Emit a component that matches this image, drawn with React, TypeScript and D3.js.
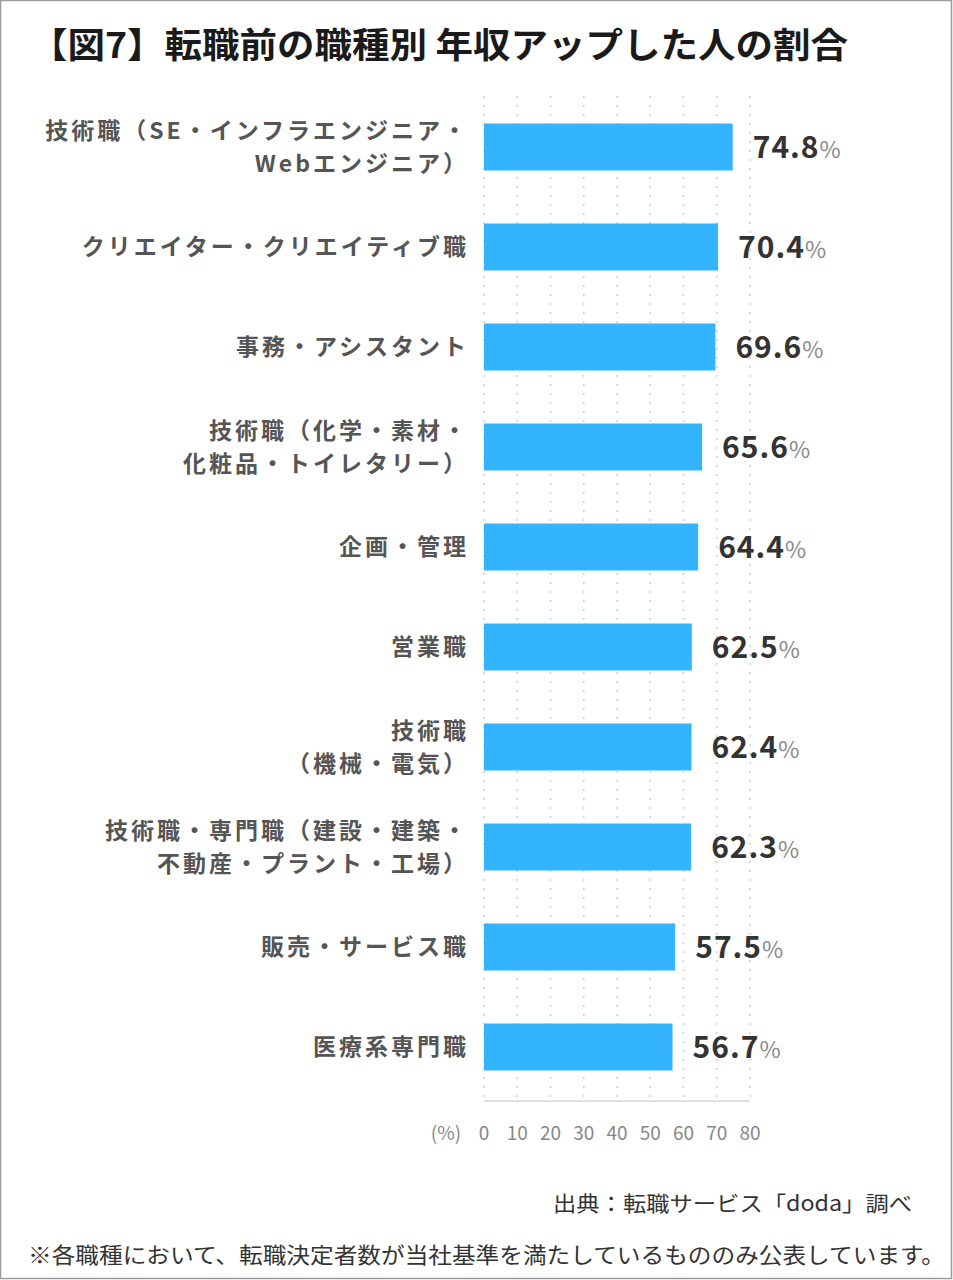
import * as d3 from 'd3';

const title = '【図7】転職前の職種別 年収アップした人の割合';

// each category: lines of the label
const categories: string[][] = [
  ['技術職（SE・インフラエンジニア・', 'Webエンジニア）'],
  ['クリエイター・クリエイティブ職'],
  ['事務・アシスタント'],
  ['技術職（化学・素材・', '化粧品・トイレタリー）'],
  ['企画・管理'],
  ['営業職'],
  ['技術職', '（機械・電気）'],
  ['技術職・専門職（建設・建築・', '不動産・プラント・工場）'],
  ['販売・サービス職'],
  ['医療系専門職'],
];

const values = [74.8, 70.4, 69.6, 65.6, 64.4, 62.5, 62.4, 62.3, 57.5, 56.7];

const ticks = [0, 10, 20, 30, 40, 50, 60, 70, 80];

const source = '出典：転職サービス「doda」調べ';
const footnote = '※各職種において、転職決定者数が当社基準を満たしているもののみ公表しています。';

const W = 953;
const H = 1280;
const font = '"Noto Sans CJK JP", "Noto Sans", sans-serif';

export default function App() {
  const x = d3.scaleLinear().domain([0, 80]).range([484, 750]);
  const y = d3
    .scaleBand<number>()
    .domain(d3.range(categories.length))
    .range([97, 1097])
    .paddingInner(0.53)
    .paddingOuter(0.265);

  const gridTop = 96;
  const axisY = 1101;

  return (
    <div style={{ position: 'absolute', left: 0, top: 0 }}>
      <svg width={W} height={H} style={{ display: 'block', fontFamily: font }}>
        <rect x={0} y={0} width={W} height={H} fill="#fff" />
        <rect x={0.5} y={0.5} width={W - 2} height={H - 2} fill="none" stroke="#9a9a9a" strokeWidth={1.5} />

        <text x={30} y={58} fontSize={35} fontWeight={700} fill="#1a1a1a" textLength={818} lengthAdjust="spacingAndGlyphs">
          {title}
        </text>

        {/* dotted grid */}
        {ticks.map((t) => (
          <line
            key={t}
            x1={x(t)}
            x2={x(t)}
            y1={gridTop}
            y2={axisY}
            stroke="#cfcfcf"
            strokeWidth={1.5}
            strokeDasharray="2 7"
          />
        ))}
        <line x1={x(0)} x2={x(80)} y1={axisY} y2={axisY} stroke="#e0e0e0" strokeWidth={2} />

        {/* bars */}
        {values.map((v, i) => (
          <rect
            key={i}
            x={x(0)}
            y={y(i)!}
            width={x(v) - x(0)}
            height={y.bandwidth()}
            fill="#33b4fd"
          />
        ))}

        {/* category labels */}
        {categories.map((lines, i) => {
          const cy = y(i)! + y.bandwidth() / 2;
          const lh = 33;
          const start = cy - ((lines.length - 1) * lh) / 2;
          return (
            <text
              key={i}
              textAnchor="end"
              fontSize={23}
              fontWeight={700}
              fill="#555"
              letterSpacing={3}
            >
              {lines.map((l, j) => (
                <tspan key={j} x={469} y={start + j * lh} dy="0.36em">
                  {l}
                </tspan>
              ))}
            </text>
          );
        })}

        {/* value labels */}
        {values.map((v, i) => (
          <text
            key={i}
            x={x(v) + 20}
            y={y(i)! + y.bandwidth() / 2}
            dy="0.36em"
            fill="#333"
            fontWeight={700}
            fontSize={30}
            letterSpacing={1}
          >
            {v.toFixed(1)}
            <tspan fontSize={23} fontWeight={400} fill="#888">%</tspan>
          </text>
        ))}

        {/* axis tick labels */}
        <text x={446} y={1133} dy="0.36em" textAnchor="middle" fontSize={19} fill="#888">
          (%)
        </text>
        {ticks.map((t) => (
          <text key={t} x={x(t)} y={1133} dy="0.36em" textAnchor="middle" fontSize={19} fill="#888">
            {t}
          </text>
        ))}

        <text x={912} y={1203} dy="0.36em" textAnchor="end" fontSize={21} fill="#333" textLength={359} lengthAdjust="spacingAndGlyphs">
          {source}
        </text>
        <text x={28} y={1255} dy="0.36em" fontSize={22} fill="#333" textLength={917} lengthAdjust="spacingAndGlyphs">
          {footnote}
        </text>
      </svg>
    </div>
  );
}
